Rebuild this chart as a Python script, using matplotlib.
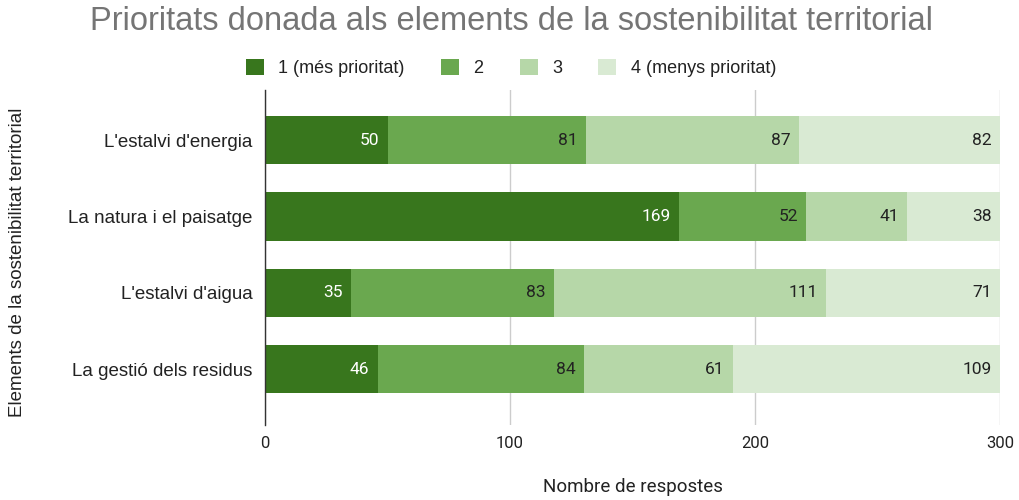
import matplotlib
matplotlib.use("Agg")
import matplotlib.pyplot as plt
import numpy as np

categories = ["L'estalvi d'energia", "La natura i el paisatge", "L'estalvi d'aigua", "La gestió dels residus"]
series_names = ["1 (més prioritat)", "2", "3", "4 (menys prioritat)"]
p1 = [50, 169, 35, 46]
p2 = [81, 52, 83, 84]
p3 = [87, 41, 111, 61]
p4 = [82, 38, 71, 109]
xticks = [0, 100, 200, 300]

colors = ["#38761d", "#6aa84f", "#b6d7a8", "#d9ead3"]
label_colors = ["white", "#222222", "#222222", "#222222"]

fig = plt.figure(figsize=(10.19, 5.0), dpi=100)
ax = fig.add_axes([265/1019, 1-425/500, 735/1019, 335/500])

y = np.arange(len(categories))
left = np.zeros(len(categories))
handles = []
for vals, name, c, lc in zip([p1, p2, p3, p4], series_names, colors, label_colors):
    vals = np.array(vals, dtype=float)
    bars = ax.barh(y, vals, left=left, height=0.63, color=c, label=name, zorder=2)
    handles.append(bars)
    for yi, l, v in zip(y, left, vals):
        ax.annotate(f"{int(v)}", xy=(l + v, yi), xytext=(-6, 0), textcoords="offset points",
                    ha="right", va="center", fontsize=12.5, color=lc, family="Roboto", zorder=3)
    left += vals

ax.set_xlim(0, 300)
ax.set_ylim(3.73, -0.655)
ax.set_xticks(xticks)
ax.set_xticklabels([str(t) for t in xticks], family="Roboto", fontsize=12, color="#222222")
ax.set_yticks(y)
ax.set_yticklabels(categories, family="Liberation Sans", fontsize=13.5, color="#222222")
ax.tick_params(axis="both", length=0)
ax.tick_params(axis="x", pad=8)
ax.tick_params(axis="y", pad=9)
ax.grid(axis="x", color="#cccccc", linewidth=1, zorder=0)
for s in ["top", "right", "bottom"]:
    ax.spines[s].set_visible(False)
ax.spines["left"].set_color("#333333")
ax.spines["left"].set_linewidth(1)
ax.spines["left"].set_zorder(4)

fig.text(633/1019, 1-487/500, "Nombre de respostes", ha="center", va="center",
         family="Roboto", fontsize=13.5, color="#222222")
fig.text(18/1019, 1-262/500, "Elements de la sostenibilitat territorial", ha="center", va="center",
         rotation=90, family="Liberation Sans", fontsize=13.5, color="#222222")
fig.text(511/1019, 1-22/500, "Prioritats donada als elements de la sostenibilitat territorial",
         ha="center", va="center", family="Liberation Sans", fontsize=23.5, color="#757575")

leg = fig.legend(handles=handles, labels=series_names, loc="center", bbox_to_anchor=(511/1019, 1-68/500),
                 ncol=4, frameon=False, prop={"family": "Liberation Sans", "size": 13},
                 handlelength=1.0, handleheight=1.0, handletextpad=0.8, columnspacing=2.0)
for t in leg.get_texts():
    t.set_color("#222222")

fig.savefig("out.png", dpi=100)
